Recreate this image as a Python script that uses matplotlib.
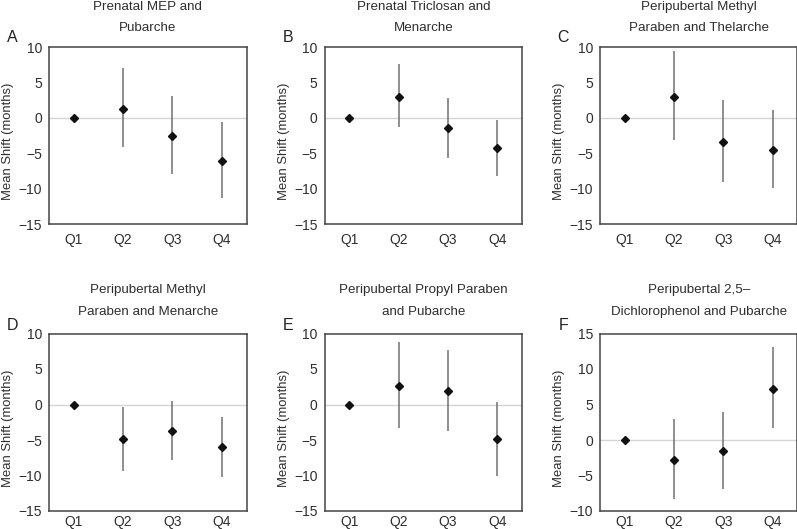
import matplotlib
matplotlib.use("Agg")
import matplotlib.pyplot as plt

plt.rcParams['font.family'] = ['Liberation Sans', 'DejaVu Sans']

quartiles = ["Q1", "Q2", "Q3", "Q4"]

letters = ["A", "B", "C", "D", "E", "F"]
titles = [
    "Prenatal MEP and\nPubarche",
    "Prenatal Triclosan and\nMenarche",
    "Peripubertal Methyl\nParaben and Thelarche",
    "Peripubertal Methyl\nParaben and Menarche",
    "Peripubertal Propyl Paraben\nand Pubarche",
    "Peripubertal 2,5\u2013\nDichlorophenol and Pubarche",
]

mean_A = [0, 1.3, -2.55, -6.15]
low_A = [0, -4.1, -7.95, -11.35]
high_A = [0, 7.05, 3.1, -0.65]

mean_B = [0, 2.95, -1.45, -4.3]
low_B = [0, -1.35, -5.7, -8.2]
high_B = [0, 7.6, 2.8, -0.35]

mean_C = [0, 2.95, -3.45, -4.55]
low_C = [0, -3.2, -9.0, -9.85]
high_C = [0, 9.5, 2.55, 1.1]

mean_D = [0, -4.9, -3.7, -6.05]
low_D = [0, -9.35, -7.8, -10.2]
high_D = [0, -0.3, 0.55, -1.75]

mean_E = [0, 2.6, 1.95, -4.85]
low_E = [0, -3.35, -3.8, -10.0]
high_E = [0, 8.8, 7.7, 0.35]

mean_F = [0, -2.8, -1.55, 7.25]
low_F = [0, -8.35, -6.85, 1.75]
high_F = [0, 2.95, 3.95, 13.05]

means = [mean_A, mean_B, mean_C, mean_D, mean_E, mean_F]
lows = [low_A, low_B, low_C, low_D, low_E, low_F]
highs = [high_A, high_B, high_C, high_D, high_E, high_F]

ylims = [(-15, 10)] * 5 + [(-10, 15)]
yticks_list = [[-15, -10, -5, 0, 5, 10]] * 5 + [[-10, -5, 0, 5, 10, 15]]

W, H = 797, 529
fig = plt.figure(figsize=(W / 100, H / 100), dpi=100)

lefts = [49, 324.5, 600]
tops = [47, 333.5]
bottoms = [224, 511.0]
width = 197.5
title_off = [(40, 19), (43.5, 21.5)]
letter_off = [9.5, 8.5]
xpad = [6.5, 2.8]

text_color = "#2e2e2e"

for i in range(6):
    r, c = divmod(i, 3)
    l = lefts[c]
    t = tops[r]
    b = bottoms[r]
    ax = fig.add_axes([l / W, 1 - b / H, width / W, (b - t) / H])
    x = list(range(1, 5))
    ax.axhline(0, color="#d4d4d4", lw=1.0, zorder=1)
    ax.vlines(x, lows[i], highs[i], color="#707070", lw=1.1, zorder=2)
    ax.plot(x, means[i], linestyle="none", marker="D", markersize=4.0,
            color="#111111", zorder=3)
    ax.set_xlim(0.5, 4.5)
    ax.set_ylim(*ylims[i])
    ax.set_yticks(yticks_list[i])
    ax.set_yticklabels([str(v).replace("-", "\u2212") for v in yticks_list[i]])
    ax.set_xticks(x)
    ax.set_xticklabels(quartiles)
    ax.tick_params(axis="both", length=0, labelsize=10, colors=text_color)
    ax.tick_params(axis="y", pad=5)
    ax.tick_params(axis="x", pad=xpad[r])
    for s in ax.spines.values():
        s.set_color("#444444")
        s.set_linewidth(1.1)
    ax.set_ylabel("Mean Shift (months)", fontsize=9.4, color=text_color)
    ax.yaxis.set_label_coords(-35 / width, 0.465)

    cx = (l + width / 2) / W
    line1, line2 = titles[i].split("\n")
    fig.text(cx, 1 - (t - title_off[r][0]) / H, line1, ha="center", va="center",
             fontsize=9.6, color=text_color)
    fig.text(cx, 1 - (t - title_off[r][1]) / H, line2, ha="center", va="center",
             fontsize=9.6, color=text_color)
    fig.text((l - 36.5) / W, 1 - (t - letter_off[r]) / H, letters[i], ha="center",
             va="center", fontsize=11.5, color="#222222")

fig.savefig("out.png", dpi=100, facecolor="white")
